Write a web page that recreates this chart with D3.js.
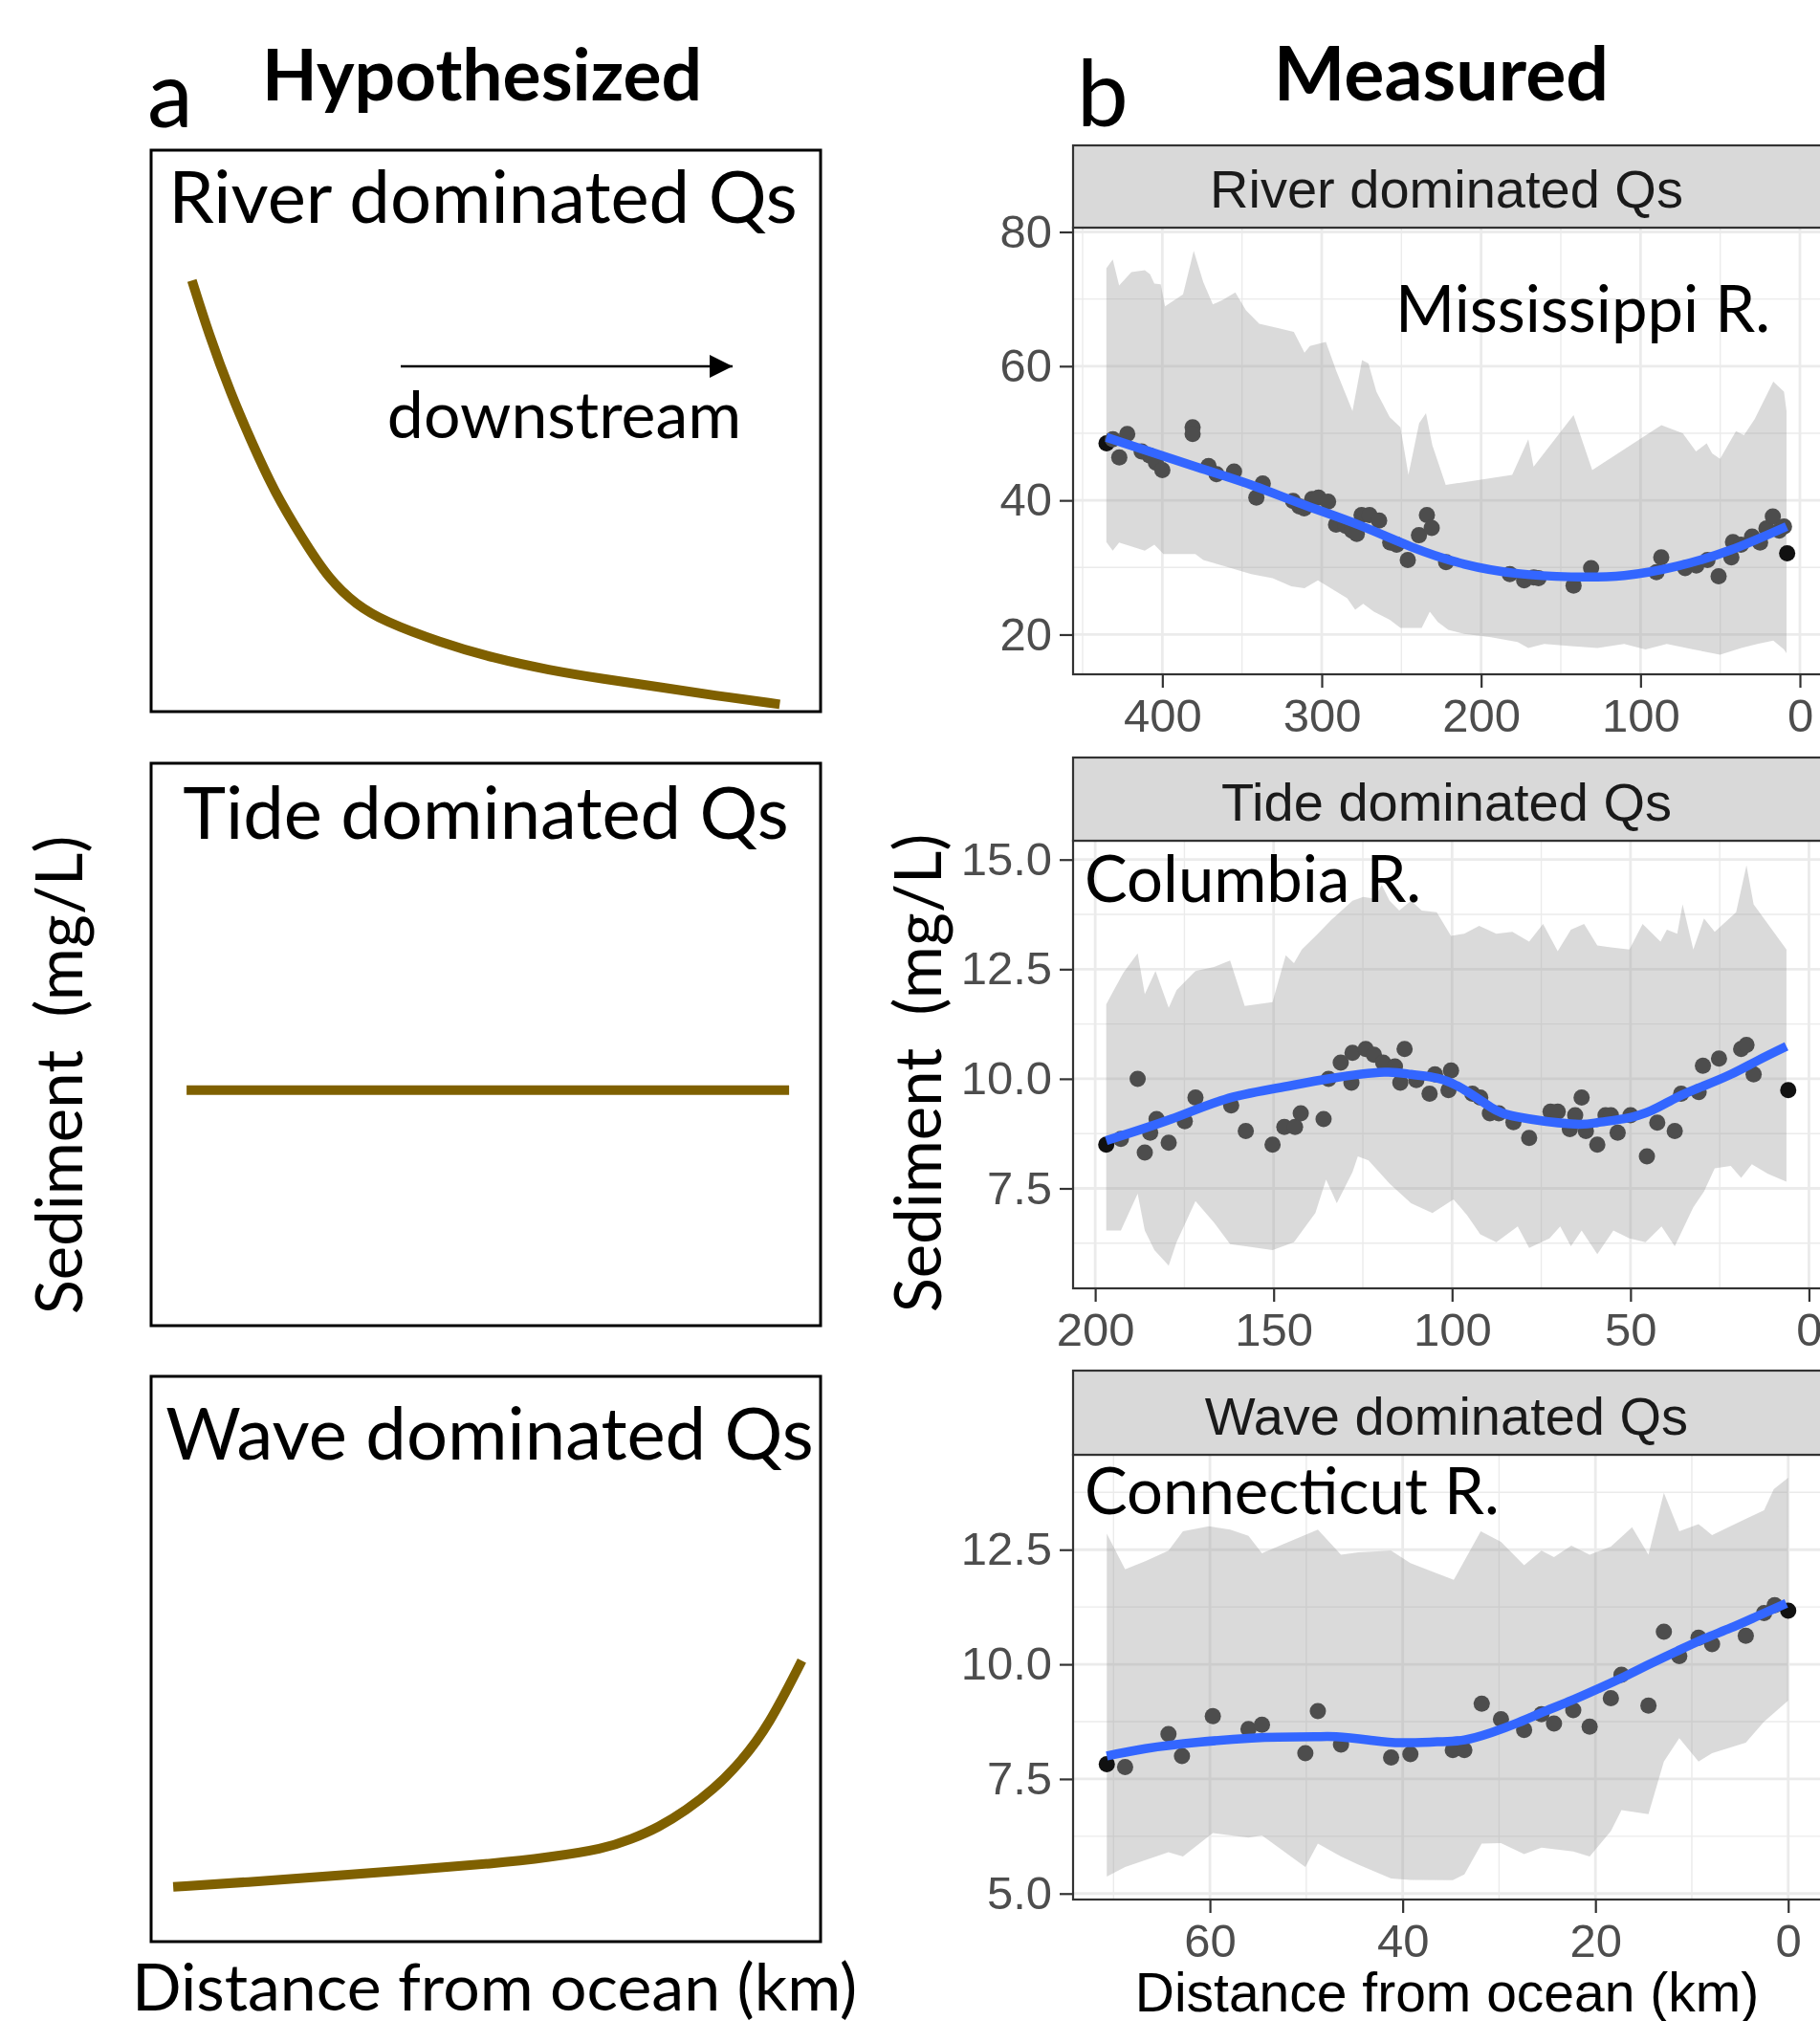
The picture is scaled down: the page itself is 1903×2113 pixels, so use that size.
<!DOCTYPE html>
<html>
<head>
<meta charset="utf-8">
<title>Hypothesized vs measured sediment</title>
<script src="https://cdn.jsdelivr.net/npm/d3@7"></script>
<style>
  body { margin: 0; background: #fff; }
  svg { display: block; }
  .cal { font-family: Lato, "Open Sans", sans-serif; fill: #000; }
  .gg { font-family: "Liberation Sans", Arial, sans-serif; }
</style>
</head>
<body>
<div id="chart"></div>
<script>
// ---------- panel a : sketched curves (box units 0-100) ----------
var riverHyp = [[6.1,76.8],[8.6,67.3],[11.9,56.6],[15.2,47.5],[18.4,39.2],[22.5,31.0],[26.6,23.5],[30.7,19.0],[34.8,16.1],[43.0,12.4],[51.2,9.5],[59.4,7.4],[67.6,5.8],[75.8,4.4],[84.0,2.9],[93.9,1.3]];
var tideHyp = [[5.3,41.9],[95.3,41.9]];
var waveHyp = [[3.3,9.7],[14.3,10.5],[26.6,11.6],[38.9,12.7],[51.2,13.8],[59.4,14.9],[67.6,16.4],[71.7,18.1],[75.8,20.2],[79.9,23.2],[84.0,26.9],[88.1,31.8],[92.2,38.1],[97.2,49.7]];
var hypTitles = ["River dominated Qs", "Tide dominated Qs", "Wave dominated Qs"];

// ---------- panel b : Mississippi R. ----------
var missPoints = [[435,48.5],[431,49.1],[427,46.4],[422,49.9],[413,47.3],[408,46.7],[404,45.6],[400,44.5],[381,50.9],[381,49.9],[371,45.1],[366,43.9],[355,44.3],[341,40.4],[337,42.5],[318,39.9],[314,39.1],[311,38.8],[306,40.2],[302,40.4],[296,39.8],[291,36.4],[285,36.2],[281,35.5],[278,35.0],[275,37.8],[270,37.8],[264,37.0],[257,33.7],[253,33.4],[246,31.1],[239,34.8],[234,37.8],[231,35.9],[222,30.8],[182,29.0],[173,28.1],[167,28.5],[164,28.4],[142,27.3],[131,29.9],[90,29.3],[87,31.5],[72,29.9],[65,30.3],[58,31.1],[51,28.7],[43,31.5],[42,33.8],[37,33.4],[30,34.6],[25,33.7],[21,35.8],[17,37.6],[13,35.5],[10,36.1],[8,32.1]];
var missFit = [[435.1,49.4],[377.6,44.9],[344.2,42.3],[310.8,39.3],[277.4,36.4],[244.0,33.1],[210.5,30.5],[177.1,29.1],[143.7,28.6],[110.3,28.8],[76.9,30.2],[43.4,32.6],[8.4,36.1]];
var missUpper = [[435.1,74.6],[431.1,75.9],[427.1,72.0],[419.4,74.0],[411.0,74.3],[407.7,73.7],[405.0,72.3],[401.0,72.2],[398.3,68.9],[392.6,69.8],[387.0,70.7],[380.3,77.2],[374.3,72.5],[368.3,69.2],[362.6,69.8],[354.2,71.0],[347.5,68.3],[339.2,66.3],[328.1,65.7],[317.5,65.1],[310.8,62.0],[307.4,63.0],[297.4,63.6],[290.7,59.2],[280.7,53.3],[274.7,60.9],[270.7,60.4],[265.7,56.2],[257.3,52.4],[250.6,50.9],[245.6,43.8],[238.9,51.5],[234.6,53.0],[230.6,48.2],[222.2,42.3],[180.5,43.8],[170.4,49.1],[167.1,45.0],[142.0,52.7],[130.3,44.5],[86.9,51.2],[73.5,50.0],[65.2,47.3],[58.5,48.5],[55.1,47.0],[50.1,46.2],[40.1,50.3],[35.1,49.7],[28.4,52.1],[16.7,57.7],[10.0,56.2],[8.4,53.3]];
var missLower = [[435.1,33.8],[431.1,32.5],[427.1,33.7],[411.0,32.5],[405.0,33.4],[399.3,32.0],[379.3,32.0],[374.3,31.1],[360.9,30.2],[344.2,29.0],[330.8,28.4],[319.1,27.2],[310.8,26.9],[302.4,28.1],[284.0,25.4],[279.0,23.7],[274.0,24.6],[267.3,23.4],[257.3,22.2],[250.6,21.0],[237.3,21.0],[232.2,23.4],[227.2,21.9],[220.6,20.7],[210.5,20.1],[193.8,19.6],[177.1,18.9],[170.4,18.0],[160.4,18.6],[143.7,18.3],[127.0,18.0],[110.3,18.6],[96.9,17.8],[83.5,18.6],[66.8,17.8],[50.1,17.0],[36.8,18.0],[26.7,18.6],[16.7,19.1],[10.0,17.8],[8.4,17.2]];
var missTicksX = [400, 300, 200, 100, 0];
var missTicksY = [20, 40, 60, 80];
var missMinorX = [450, 350, 250, 150, 50];
var missMinorY = [30, 50, 70];

// ---------- panel b : Columbia R. ----------
var colPoints = [[196.9,8.50],[192.8,8.63],[188.1,10.0],[186.1,8.32],[184.6,8.77],[182.8,9.08],[179.4,8.54],[174.9,9.03],[171.9,9.57],[161.9,9.39],[157.8,8.81],[150.3,8.50],[147.0,8.90],[144.0,8.90],[142.4,9.21],[136.0,9.08],[134.6,10.0],[131.2,10.37],[128.2,9.91],[127.9,10.59],[124.2,10.68],[121.9,10.55],[119.3,10.37],[116.0,10.28],[114.5,9.91],[113.3,10.68],[110.0,9.97],[106.3,9.66],[104.8,10.10],[101.0,9.74],[100.3,10.19],[94.3,9.66],[92.1,9.57],[89.4,9.21],[86.9,9.21],[82.8,9.01],[78.4,8.65],[72.4,9.25],[70.4,9.25],[67.0,8.85],[65.5,9.17],[63.7,9.57],[62.5,8.81],[59.3,8.50],[57.0,9.17],[55.5,9.17],[53.6,8.77],[50.0,9.17],[45.4,8.23],[42.5,9.00],[37.6,8.81],[35.8,9.66],[30.9,9.70],[29.7,10.30],[25.2,10.46],[19.0,10.68],[17.5,10.77],[15.5,10.10],[5.8,9.74]];
var colFit = [[196.9,8.59],[178.7,9.08],[163.7,9.53],[148.8,9.79],[133.9,10.01],[119.0,10.15],[111.5,10.10],[104.0,10.01],[96.6,9.75],[89.1,9.35],[81.6,9.13],[66.7,8.97],[59.3,9.00],[51.8,9.09],[44.3,9.27],[36.9,9.58],[29.4,9.84],[21.9,10.10],[14.5,10.41],[6.3,10.74]];
var colUpper = [[196.9,11.70],[195.1,11.97],[192.1,12.42],[188.1,12.86],[186.1,11.93],[183.1,12.46],[179.4,11.62],[177.2,12.02],[171.9,12.46],[166.7,12.55],[162.2,12.70],[158.1,11.66],[150.3,11.75],[146.6,12.82],[144.3,12.64],[142.1,12.95],[137.6,13.31],[133.9,13.62],[127.9,14.06],[124.9,14.15],[121.9,14.11],[119.7,14.42],[117.5,14.06],[114.8,13.84],[111.5,14.06],[108.5,13.84],[104.3,13.80],[100.3,13.26],[96.6,13.31],[92.4,13.49],[87.6,13.31],[83.1,13.35],[78.4,13.13],[74.5,13.53],[70.4,12.91],[66.7,13.40],[63.0,13.53],[59.3,13.04],[55.5,13.00],[50.3,12.95],[46.6,13.53],[41.6,13.13],[39.8,13.40],[36.9,13.31],[35.4,13.98],[32.4,12.95],[29.4,13.66],[26.4,13.35],[20.4,13.80],[17.5,14.87],[15.5,13.98],[6.3,12.95]];
var colLower = [[196.9,6.54],[192.8,6.54],[188.1,7.38],[186.1,6.54],[183.4,6.09],[179.4,5.74],[177.2,6.27],[171.9,7.21],[166.7,6.72],[162.2,6.23],[157.8,6.18],[150.3,6.09],[144.3,6.27],[138.3,6.94],[135.3,7.70],[132.3,7.16],[127.9,7.87],[126.4,8.23],[123.4,8.14],[117.5,7.61],[111.5,7.16],[105.5,6.94],[99.6,7.25],[95.8,6.89],[92.1,6.45],[87.6,6.27],[81.6,6.63],[78.4,6.14],[72.7,6.36],[69.7,6.63],[66.7,6.18],[63.7,6.54],[59.3,6.00],[54.8,6.54],[50.3,6.36],[45.8,6.27],[41.3,6.63],[37.6,6.18],[32.4,7.07],[29.4,7.43],[26.4,7.96],[21.9,8.01],[19.0,7.74],[16.0,8.05],[11.5,7.83],[6.3,7.65]];
var colTicksX = [200, 150, 100, 50, 0];
var colTicksY = [7.5, 10, 12.5, 15];
var colMinorX = [175, 125, 75, 25];
var colMinorY = [6.25, 8.75, 11.25, 13.75];

// ---------- panel b : Connecticut R. ----------
var connPoints = [[70.7,7.82],[68.8,7.76],[64.3,8.48],[62.9,8.00],[59.7,8.87],[56.0,8.59],[54.6,8.68],[50.1,8.06],[48.8,8.98],[46.4,8.25],[41.2,7.97],[39.2,8.04],[34.8,8.13],[33.6,8.13],[31.8,9.14],[29.8,8.80],[27.4,8.57],[25.6,8.91],[24.3,8.71],[22.3,9.00],[20.6,8.64],[18.4,9.26],[17.3,9.77],[14.5,9.10],[12.9,10.71],[11.3,10.18],[9.3,10.58],[7.9,10.44],[4.4,10.62],[2.5,11.12],[1.4,11.29],[0.0,11.17]];
var connFit = [[70.7,8.00],[66.7,8.16],[61.2,8.30],[55.7,8.39],[52.9,8.41],[49.1,8.42],[46.9,8.42],[43.5,8.35],[40.2,8.29],[36.4,8.31],[33.6,8.35],[30.8,8.51],[28.1,8.72],[25.3,8.97],[22.5,9.21],[19.8,9.46],[17.0,9.73],[14.3,10.01],[11.5,10.29],[8.7,10.56],[6.0,10.79],[3.2,11.05],[0.2,11.33]];
var connUpper = [[70.7,12.85],[68.8,12.07],[66.7,12.25],[64.3,12.48],[62.8,12.90],[60.1,13.01],[57.9,12.94],[56.0,12.80],[54.6,12.42],[52.4,12.62],[48.8,12.94],[46.4,12.39],[44.6,12.44],[41.2,12.48],[39.2,12.21],[36.9,12.02],[34.7,11.84],[31.9,12.90],[29.8,12.67],[27.4,12.16],[25.6,12.48],[24.3,12.34],[22.5,12.59],[20.6,12.39],[18.4,12.57],[16.2,12.99],[14.5,12.39],[12.9,13.74],[11.3,12.90],[9.3,13.06],[7.9,12.82],[6.0,13.01],[4.4,13.17],[2.5,13.36],[1.5,13.82],[0.0,14.07]];
var connLower = [[70.7,5.37],[68.8,5.58],[64.3,5.90],[62.8,5.81],[59.7,6.32],[56.0,6.22],[54.6,6.27],[50.1,5.58],[48.8,6.09],[46.4,5.81],[44.6,5.63],[41.2,5.33],[39.2,5.30],[34.8,5.29],[33.6,5.42],[31.8,6.09],[29.8,6.10],[27.4,5.86],[25.6,6.00],[22.3,5.92],[20.6,5.81],[18.4,6.36],[17.3,6.82],[14.5,6.73],[12.9,7.88],[11.3,8.39],[9.3,7.88],[7.9,8.06],[4.4,8.29],[2.5,8.75],[0.0,9.21]];
var connTicksX = [60, 40, 20, 0];
var connTicksY = [5, 7.5, 10, 12.5];
var connMinorX = [70, 50, 30, 10];
var connMinorY = [6.25, 8.75, 11.25, 13.75];

var W = 1903, H = 2113;
var svg = d3.select("#chart").append("svg")
  .attr("width", W).attr("height", H);
svg.append("rect").attr("width", W).attr("height", H).attr("fill", "#fff");

function translate(x, y) { return "translate(" + x + "," + y + ")"; }

// ================= panel a =================
var boxL = 158, boxR = 858;
var hypBoxes = [
  {top: 157, bottom: 744, data: riverHyp, titleY: 233, titleX: 505},
  {top: 798, bottom: 1386, data: tideHyp, titleY: 877, titleX: 508},
  {top: 1439, bottom: 2030, data: waveHyp, titleY: 1526, titleX: 512}
];

hypBoxes.forEach(function(b, i) {
  var hx = d3.scaleLinear().domain([0, 100]).range([boxL, boxR]);
  var hy = d3.scaleLinear().domain([0, 100]).range([b.bottom, b.top]);
  svg.append("rect")
    .attr("x", boxL).attr("y", b.top)
    .attr("width", boxR - boxL).attr("height", b.bottom - b.top)
    .attr("fill", "none").attr("stroke", "#000").attr("stroke-width", 3);
  svg.append("path")
    .datum(b.data)
    .attr("d", d3.line().x(function(d) { return hx(d[0]); })
      .y(function(d) { return hy(d[1]); }).curve(d3.curveBasis))
    .attr("fill", "none").attr("stroke", "#7F6000").attr("stroke-width", 10);
  svg.append("text").attr("class", "cal")
    .attr("x", b.titleX).attr("y", b.titleY)
    .attr("text-anchor", "middle").attr("font-size", 76)
    .text(hypTitles[i]);
});

// downstream arrow
svg.append("defs").append("marker")
  .attr("id", "head").attr("viewBox", "0 0 10 10")
  .attr("refX", 10).attr("refY", 5)
  .attr("markerWidth", 29).attr("markerHeight", 24)
  .attr("markerUnits", "userSpaceOnUse")
  .attr("orient", "auto")
  .append("path").attr("d", "M0,0 L10,5 L0,10 Z").attr("fill", "#000");
svg.append("line")
  .attr("x1", 419).attr("x2", 766).attr("y1", 383).attr("y2", 383)
  .attr("stroke", "#000").attr("stroke-width", 2.5)
  .attr("marker-end", "url(#head)");
svg.append("text").attr("class", "cal")
  .attr("x", 590).attr("y", 458).attr("text-anchor", "middle")
  .attr("font-size", 68).text("downstream");

svg.append("text").attr("class", "cal")
  .attr("x", 154).attr("y", 133).attr("font-size", 96).text("a");
svg.append("text").attr("class", "cal")
  .attr("x", 504).attr("y", 105).attr("text-anchor", "middle")
  .attr("font-size", 75).attr("font-weight", 700).text("Hypothesized");
svg.append("text").attr("class", "cal")
  .attr("transform", translate(86, 1124) + " rotate(-90)")
  .attr("text-anchor", "middle").attr("font-size", 67)
  .style("white-space", "pre").text("Sediment  (mg/L)");
svg.append("text").attr("class", "cal")
  .attr("x", 517).attr("y", 2102).attr("text-anchor", "middle")
  .attr("font-size", 68).text("Distance from ocean (km)");

// ================= panel b =================
var pL = 1122, pR = 1903;
var panels = [
  {strip: "River dominated Qs", label: "Mississippi R.", labelX: 1655, labelY: 347, anchor: "middle",
   points: missPoints, fit: missFit, upper: missUpper, lower: missLower,
   xDomain: [456, -12.6], yDomain: [14.08, 80.64],
   ticksX: missTicksX, ticksY: missTicksY, minorX: missMinorX, minorY: missMinorY,
   fmt: d3.format("d"), stripTop: 152, stripBottom: 238, bottom: 705},
  {strip: "Tide dominated Qs", label: "Columbia R.", labelX: 1134, labelY: 943, anchor: "start",
   points: colPoints, fit: colFit, upper: colUpper, lower: colLower,
   xDomain: [206.2, -3.1], yDomain: [5.22, 15.43],
   ticksX: colTicksX, ticksY: colTicksY, minorX: colMinorX, minorY: colMinorY,
   fmt: d3.format(".1f"), stripTop: 792, stripBottom: 879, bottom: 1347},
  {strip: "Wave dominated Qs", label: "Connecticut R.", labelX: 1134, labelY: 1583, anchor: "start",
   points: connPoints, fit: connFit, upper: connUpper, lower: connLower,
   xDomain: [74.2, -3.3], yDomain: [4.87, 14.57],
   ticksX: connTicksX, ticksY: connTicksY, minorX: connMinorX, minorY: connMinorY,
   fmt: d3.format(".1f"), stripTop: 1433, stripBottom: 1521, bottom: 1986}
];

var lineOf = function(x, y) {
  return d3.line().x(function(d) { return x(d[0]); }).y(function(d) { return y(d[1]); });
};

panels.forEach(function(p) {
  var x = d3.scaleLinear().domain(p.xDomain).range([pL, pR]);
  var y = d3.scaleLinear().domain(p.yDomain).range([p.bottom, p.stripBottom]);
  var g = svg.append("g");

  // grid
  g.selectAll(".minx").data(p.minorX).enter().append("line")
    .attr("x1", x).attr("x2", x).attr("y1", p.stripBottom).attr("y2", p.bottom)
    .attr("stroke", "#EBEBEB").attr("stroke-width", 1.4);
  g.selectAll(".miny").data(p.minorY).enter().append("line")
    .attr("y1", y).attr("y2", y).attr("x1", pL).attr("x2", pR)
    .attr("stroke", "#EBEBEB").attr("stroke-width", 1.4);
  g.selectAll(".majx").data(p.ticksX).enter().append("line")
    .attr("x1", x).attr("x2", x).attr("y1", p.stripBottom).attr("y2", p.bottom)
    .attr("stroke", "#EBEBEB").attr("stroke-width", 2.8);
  g.selectAll(".majy").data(p.ticksY).enter().append("line")
    .attr("y1", y).attr("y2", y).attr("x1", pL).attr("x2", pR)
    .attr("stroke", "#EBEBEB").attr("stroke-width", 2.8);

  // ribbon (semi-transparent, grid shows through)
  var band = p.upper.concat(p.lower.slice().reverse());
  g.append("path")
    .attr("d", lineOf(x, y)(band) + "Z")
    .attr("fill", "#999999").attr("fill-opacity", 0.36);

  // points
  g.selectAll(".pt").data(p.points).enter().append("circle")
    .attr("cx", function(d) { return x(d[0]); })
    .attr("cy", function(d) { return y(d[1]); })
    .attr("r", 8.5)
    .attr("fill", function(d, i) { return (i == 0 || i == p.points.length - 1) ? "#111" : "#4D4D4D"; });

  // smooth
  g.append("path")
    .attr("d", lineOf(x, y).curve(d3.curveNatural)(p.fit))
    .attr("fill", "none").attr("stroke", "#3366FF").attr("stroke-width", 9.5);

  // border (right edge runs off the picture)
  g.append("rect")
    .attr("x", pL).attr("y", p.stripBottom)
    .attr("width", pR + 10 - pL).attr("height", p.bottom - p.stripBottom)
    .attr("fill", "none").attr("stroke", "#333333").attr("stroke-width", 2.2);

  // strip
  g.append("rect")
    .attr("x", pL).attr("y", p.stripTop)
    .attr("width", pR + 10 - pL).attr("height", p.stripBottom - p.stripTop)
    .attr("fill", "#D9D9D9").attr("stroke", "#333333").attr("stroke-width", 2.2);
  g.append("text").attr("class", "gg")
    .attr("x", (pL + pR) / 2).attr("y", p.stripBottom - 21)
    .attr("text-anchor", "middle").attr("font-size", 56).attr("fill", "#1A1A1A")
    .text(p.strip);

  // axes
  var ya = g.append("g").attr("transform", translate(pL, 0))
    .call(d3.axisLeft(y).tickValues(p.ticksY).tickFormat(p.fmt).tickSize(14).tickPadding(8));
  var xa = g.append("g").attr("transform", translate(0, p.bottom))
    .call(d3.axisBottom(x).tickValues(p.ticksX).tickSize(14).tickPadding(11));
  [ya, xa].forEach(function(a) {
    a.select(".domain").remove();
    a.selectAll("line").attr("stroke", "#333333").attr("stroke-width", 2.2);
    a.selectAll("text").attr("class", "gg").attr("font-size", 49).attr("fill", "#4D4D4D");
  });

  g.append("text").attr("class", "cal")
    .attr("x", p.labelX).attr("y", p.labelY)
    .attr("text-anchor", p.anchor).attr("font-size", 67)
    .text(p.label);
});

svg.append("text").attr("class", "cal")
  .attr("x", 1126).attr("y", 132).attr("font-size", 96).text("b");
svg.append("text").attr("class", "cal")
  .attr("x", 1507).attr("y", 105).attr("text-anchor", "middle")
  .attr("font-size", 79).attr("font-weight", 700).text("Measured");
svg.append("text").attr("class", "cal")
  .attr("transform", translate(984, 1122) + " rotate(-90)")
  .attr("text-anchor", "middle").attr("font-size", 67)
  .style("white-space", "pre").text("Sediment  (mg/L)");
svg.append("text").attr("class", "gg")
  .attr("x", 1513).attr("y", 2103).attr("text-anchor", "middle")
  .attr("font-size", 57).attr("fill", "#000")
  .text("Distance from ocean (km)");
</script>
</body>
</html>
